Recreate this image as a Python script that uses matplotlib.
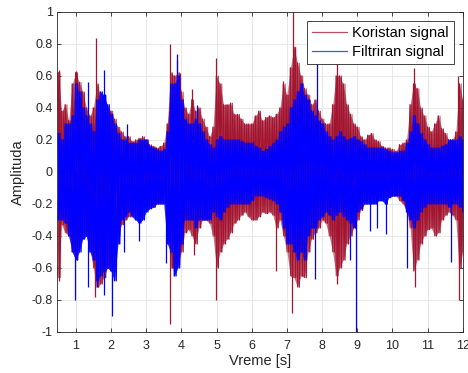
import numpy as np
import matplotlib
matplotlib.use('Agg')
import matplotlib.pyplot as plt
from matplotlib.lines import Line2D

# envelope of each signal, every 0.1 s (0.5 s .. 12.0 s)
t = np.round(np.arange(0.5, 12.0001, 0.1), 1)

red_top = [0.62, 0.38, 0.42, 0.32, 0.55, 0.62, 0.56, 0.50, 0.40, 0.35,
           0.40, 0.55, 0.48, 0.42, 0.40, 0.38, 0.33, 0.28, 0.25, 0.22,
           0.22, 0.19, 0.20, 0.21, 0.22, 0.20, 0.17, 0.16, 0.15, 0.16,
           0.18, 0.30, 0.62, 0.60, 0.62, 0.50, 0.40, 0.36, 0.45, 0.38,
           0.40, 0.33, 0.28, 0.22, 0.28, 0.60, 0.55, 0.42, 0.42, 0.43,
           0.36, 0.36, 0.33, 0.30, 0.30, 0.30, 0.35, 0.38, 0.32, 0.34,
           0.35, 0.34, 0.36, 0.40, 0.55, 0.48, 0.65, 0.78, 0.68, 0.60,
           0.52, 0.48, 0.42, 0.45, 0.38, 0.33, 0.30, 0.30, 0.42, 0.60,
           0.60, 0.55, 0.42, 0.36, 0.30, 0.28, 0.22, 0.20, 0.23, 0.24,
           0.20, 0.19, 0.16, 0.15, 0.15, 0.14, 0.13, 0.17, 0.18, 0.20,
           0.42, 0.55, 0.52, 0.40, 0.35, 0.28, 0.25, 0.30, 0.35, 0.27,
           0.24, 0.20, 0.20, 0.25, 0.55, 0.45]
red_bot = [-0.66, -0.33, -0.38, -0.40, -0.50, -0.55, -0.42, -0.36, -0.40, -0.48,
           -0.60, -0.72, -0.70, -0.66, -0.60, -0.56, -0.50, -0.40, -0.33, -0.30,
           -0.28, -0.26, -0.25, -0.25, -0.23, -0.20, -0.21, -0.22, -0.20, -0.19,
           -0.15, -0.35, -0.60, -0.60, -0.58, -0.50, -0.38, -0.36, -0.40, -0.45,
           -0.35, -0.30, -0.30, -0.32, -0.40, -0.60, -0.50, -0.45, -0.42, -0.38,
           -0.32, -0.30, -0.27, -0.25, -0.28, -0.30, -0.30, -0.28, -0.25, -0.26,
           -0.25, -0.27, -0.35, -0.30, -0.40, -0.50, -0.65, -0.66, -0.72, -0.65,
           -0.66, -0.50, -0.42, -0.38, -0.35, -0.30, -0.32, -0.40, -0.50, -0.65,
           -0.60, -0.55, -0.45, -0.40, -0.35, -0.30, -0.24, -0.20, -0.17, -0.15,
           -0.15, -0.16, -0.15, -0.15, -0.14, -0.15, -0.15, -0.18, -0.20, -0.25,
           -0.35, -0.62, -0.55, -0.45, -0.40, -0.36, -0.35, -0.40, -0.38, -0.30,
           -0.27, -0.25, -0.27, -0.30, -0.60, -0.50]
blue_top = [0.24, 0.20, 0.30, 0.30, 0.35, 0.55, 0.50, 0.40, 0.35, 0.30,
            0.25, 0.45, 0.50, 0.48, 0.42, 0.36, 0.30, 0.24, 0.20, 0.20,
            0.18, 0.18, 0.18, 0.20, 0.20, 0.20, 0.16, 0.15, 0.14, 0.13,
            0.14, 0.25, 0.55, 0.55, 0.60, 0.45, 0.33, 0.30, 0.30, 0.33,
            0.30, 0.25, 0.20, 0.17, 0.15, 0.20, 0.22, 0.20, 0.20, 0.20,
            0.20, 0.20, 0.19, 0.18, 0.18, 0.18, 0.16, 0.15, 0.13, 0.14,
            0.16, 0.18, 0.20, 0.25, 0.28, 0.30, 0.40, 0.45, 0.50, 0.55,
            0.48, 0.45, 0.38, 0.35, 0.32, 0.30, 0.25, 0.22, 0.20, 0.22,
            0.25, 0.22, 0.20, 0.21, 0.22, 0.20, 0.19, 0.17, 0.15, 0.15,
            0.15, 0.15, 0.15, 0.14, 0.13, 0.12, 0.12, 0.13, 0.13, 0.18,
            0.25, 0.35, 0.30, 0.24, 0.20, 0.17, 0.15, 0.15, 0.15, 0.16,
            0.17, 0.20, 0.20, 0.20, 0.22, 0.20]
blue_bot = [-0.30, -0.30, -0.32, -0.40, -0.50, -0.55, -0.50, -0.42, -0.40, -0.50,
            -0.55, -0.68, -0.65, -0.62, -0.60, -0.62, -0.68, -0.45, -0.30, -0.28,
            -0.25, -0.28, -0.30, -0.32, -0.30, -0.25, -0.23, -0.22, -0.20, -0.20,
            -0.20, -0.45, -0.50, -0.65, -0.60, -0.45, -0.30, -0.30, -0.30, -0.35,
            -0.30, -0.30, -0.30, -0.30, -0.25, -0.28, -0.30, -0.25, -0.22, -0.20,
            -0.20, -0.20, -0.20, -0.20, -0.20, -0.18, -0.15, -0.15, -0.15, -0.16,
            -0.17, -0.18, -0.20, -0.25, -0.35, -0.45, -0.45, -0.50, -0.55, -0.50,
            -0.55, -0.40, -0.35, -0.35, -0.30, -0.28, -0.25, -0.27, -0.30, -0.27,
            -0.25, -0.28, -0.30, -0.32, -0.35, -0.25, -0.23, -0.20, -0.20, -0.20,
            -0.20, -0.18, -0.18, -0.20, -0.16, -0.15, -0.15, -0.15, -0.18, -0.25,
            -0.30, -0.35, -0.30, -0.25, -0.22, -0.20, -0.20, -0.20, -0.20, -0.20,
            -0.20, -0.22, -0.20, -0.20, -0.22, -0.25]

# isolated peaks (time, value)
red_spike_t = [0.52, 0.52, 1.0, 1.57, 1.55, 3.68, 3.68, 3.87, 3.95, 4.3, 4.37,
               4.98, 4.98, 6.69, 6.9, 7.14, 7.18, 7.23, 8.43, 8.43, 10.62,
               10.64, 11.87, 11.9]
red_spike_v = [0.64, -0.68, 0.63, 0.84, -0.78, 0.80, -0.95, 0.70, 0.62, 0.52, -0.52,
               0.71, -0.80, -0.62, 0.57, -0.88, 1.00, 0.78, 0.75, -0.70, 0.65,
               -0.72, 0.60, -0.80]
blue_spike_t = [1.36, 1.81, 2.45, 3.87, 4.44, 7.85, 0.98, 1.36, 1.6, 1.8, 2.02,
                2.37, 2.81, 3.56, 7.81, 8.79, 8.97, 9.36, 9.55, 9.83, 10.4, 11.66]
blue_spike_v = [0.56, 0.64, 0.30, 0.74, 0.42, 0.68, -0.80, -0.72, -0.72, -0.77, -0.90,
                -0.50, -0.43, -0.57, -0.67, -0.55, -1.00, -0.37, -0.35, -0.39, -0.60, -0.56]

labels = ['Koristan signal', 'Filtriran signal']
red = '#A2142F'
blue = '#0000FF'


def zigzag(tt, top, bot, phase=0):
    # alternate between the upper and lower envelope, like a dense waveform
    x = np.column_stack([tt, tt + 0.05]).ravel()
    if phase == 0:
        y = np.column_stack([top, bot]).ravel()
    else:
        y = np.column_stack([bot, top]).ravel()
    return x, y


plt.rcParams['font.family'] = ['Liberation Sans', 'DejaVu Sans']

fig = plt.figure(figsize=(4.68, 3.73), dpi=100)
ax = fig.add_axes([0.122, 0.110, 0.867, 0.858])

# Koristan signal
ax.fill_between(t, red_bot, red_top, color=red, alpha=0.6, lw=0)
xr, yr = zigzag(t, red_top, red_bot)
ax.plot(xr, yr, color=red, lw=1.0)
xr2, yr2 = zigzag(t, red_top, red_bot, phase=1)
ax.plot(xr2, yr2, color=red, lw=0.6)
ax.vlines(red_spike_t, 0, red_spike_v, color=red, lw=0.9)

# Filtriran signal
ax.fill_between(t, blue_bot, blue_top, color=blue, alpha=0.8, lw=0)
xb, yb = zigzag(t, blue_top, blue_bot)
ax.plot(xb, yb, color=blue, lw=1.0)
xb2, yb2 = zigzag(t, blue_top, blue_bot, phase=1)
ax.plot(xb2, yb2, color=blue, lw=1.0)
ax.vlines(blue_spike_t, 0, blue_spike_v, color=blue, lw=0.9)

ax.set_xlim(0.47, 12)
ax.set_ylim(-1, 1)
ax.set_xticks(range(1, 13))
ax.set_yticks(np.round(np.arange(-1, 1.01, 0.2), 1))
ax.set_yticklabels(['-1', '-0.8', '-0.6', '-0.4', '-0.2', '0',
                    '0.2', '0.4', '0.6', '0.8', '1'])
ax.grid(True, color='#e3e3e3', lw=0.6)
ax.set_axisbelow(True)
ax.tick_params(direction='in', length=3, width=0.6, top=True, right=True,
               labelsize=9, colors='#262626')
ax.tick_params(axis='x', pad=6)
ax.tick_params(axis='y', pad=3)
for s in ax.spines.values():
    s.set_color('#262626')
    s.set_linewidth(0.6)

ax.set_xlabel('Vreme [s]', fontsize=10.5, color='#262626', labelpad=1)
ax.set_ylabel('Amplituda', fontsize=10.5, color='#262626', labelpad=5)

handles = [Line2D([], [], color=red, lw=0.9, alpha=0.75),
           Line2D([], [], color=blue, lw=0.9, alpha=0.7)]
leg = ax.legend(handles, labels, loc='upper right', fontsize=10.5,
                fancybox=False, framealpha=1, edgecolor='#262626',
                handlelength=2.4, handletextpad=0.35, borderaxespad=0.6,
                borderpad=0.35, labelspacing=0.37)
leg.get_frame().set_linewidth(0.6)

fig.savefig('out.png', dpi=100)
